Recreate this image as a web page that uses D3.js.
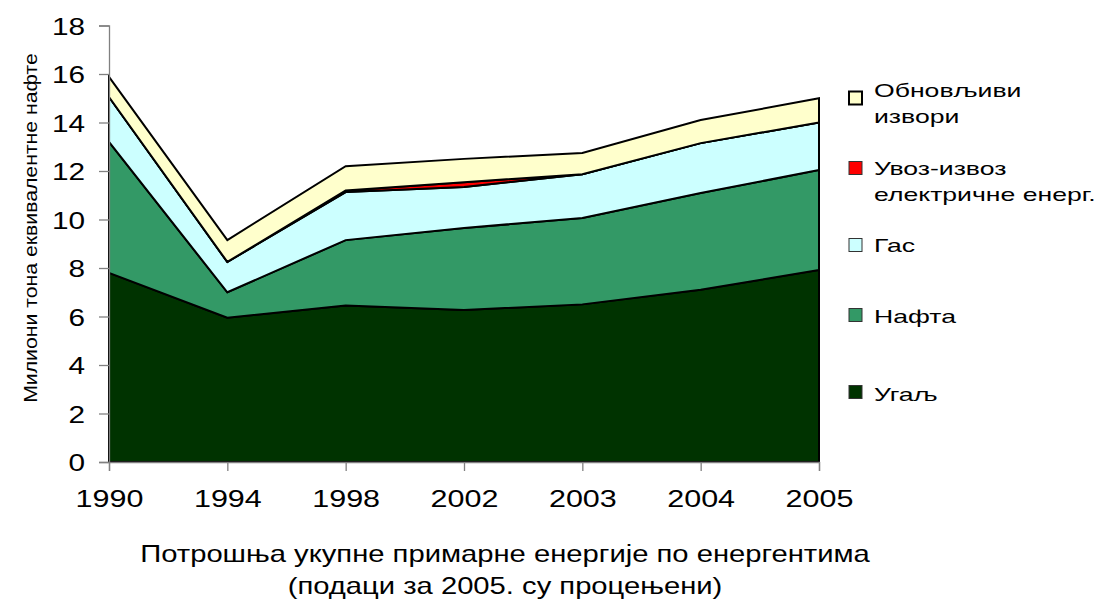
<!DOCTYPE html>
<html>
<head>
<meta charset="utf-8">
<script src="https://cdn.jsdelivr.net/npm/d3@7"></script>
<style>
  body { margin: 0; background: #fff; }
  svg { font-family: Arial, "Liberation Sans", sans-serif; }
</style>
</head>
<body>
<svg id="chart" width="1099" height="605"></svg>
<script>
// years on the x axis (treated as categories)
var years = ["1990", "1994", "1998", "2002", "2003", "2004", "2005"];
// stacked from bottom to top
var coal   = [7.8, 5.95, 6.45, 6.27, 6.5, 7.1, 7.92];
var oil    = [5.4, 1.05, 2.7, 3.38, 3.56, 3.99, 4.12];
var gas    = [1.85, 1.25, 1.98, 1.69, 1.81, 2.06, 1.96];
var elec   = [0, 0, 0.07, 0.2, 0, 0, 0];
var renew  = [0.83, 0.9, 1.0, 0.96, 0.87, 0.95, 1.0];
var seriesNames = ["Угаљ", "Нафта", "Гас", "Увоз-извоз електричне енерг.", "Обновљиви извори"];
var seriesColors = ["#003300", "#339966", "#CCFFFF", "#FF0000", "#FFFFCC"];
var yTicks = [0, 2, 4, 6, 8, 10, 12, 14, 16, 18];

var svg = d3.select("#chart");
var x0 = 109, x1 = 819, yTop = 25.5, yBot = 462;

// the original text is wider than Liberation Sans, so stretch it a bit
function stretch(sel, sx) {
  sel.each(function() {
    var t = d3.select(this);
    var tx = +t.attr("x") || 0, ty = +t.attr("y") || 0;
    t.attr("x", 0).attr("y", 0)
      .attr("transform", "translate(" + tx + "," + ty + ") scale(" + sx + ",1)");
  });
}

var rows = years.map(function(y, i) {
  return { year: y, s0: coal[i], s1: oil[i], s2: gas[i], s3: elec[i], s4: renew[i] };
});
var stack = d3.stack().keys(["s0", "s1", "s2", "s3", "s4"]);
var layers = stack(rows);

var x = d3.scalePoint().domain(years).range([x0, x1]);
var y = d3.scaleLinear().domain([0, 18]).range([yBot, yTop]);

var area = d3.area()
  .x(function(d) { return x(d.data.year); })
  .y0(function(d) { return y(d[0]); })
  .y1(function(d) { return y(d[1]); });

svg.append("g")
  .selectAll("path")
  .data(layers)
  .join("path")
  .attr("d", area)
  .attr("fill", function(d, i) { return seriesColors[i]; })
  .attr("stroke", "#000")
  .attr("stroke-width", 2)
  .attr("stroke-linejoin", "miter");

// axes
var yAxis = svg.append("g")
  .attr("transform", "translate(" + x0 + ",0)")
  .call(d3.axisLeft(y).tickValues(yTicks).tickSize(10).tickPadding(14));
var xAxis = svg.append("g")
  .attr("transform", "translate(0," + yBot + ")")
  .call(d3.axisBottom(x).tickSize(9).tickPadding(19));

[yAxis, xAxis].forEach(function(ax) {
  ax.select(".domain").attr("stroke", "#808080").attr("stroke-width", 1.3);
  ax.selectAll(".tick line").attr("stroke", "#808080").attr("stroke-width", 1.3);
  ax.selectAll(".tick text")
    .attr("fill", "#000")
    .style("font-family", "Arial, 'Liberation Sans', sans-serif")
    .style("font-size", "24px");
});
yAxis.selectAll(".tick text").attr("dy", "0.36em");
xAxis.selectAll(".tick text").attr("dy", "0.71em");
stretch(yAxis.selectAll(".tick text"), 1.24);
stretch(xAxis.selectAll(".tick text"), 1.27);

// y axis title
svg.append("text")
  .attr("transform", "translate(37,228) rotate(-90) scale(1.18,1)")
  .attr("text-anchor", "middle")
  .style("font-size", "18px")
  .text("Милиони тона еквивалентне нафте");

// bottom title
var t1 = svg.append("text")
  .attr("x", 505).attr("y", 562)
  .attr("text-anchor", "middle")
  .style("font-size", "23px")
  .text("Потрошња укупне примарне енергије по енергентима");
var t2 = svg.append("text")
  .attr("x", 505).attr("y", 594)
  .attr("text-anchor", "middle")
  .style("font-size", "23px")
  .text("(подаци за 2005. су процењени)");
stretch(t1, 1.27);
stretch(t2, 1.27);

// legend (top series first): square centre and first baseline
var legendItems = [
  { i: 4, lines: ["Обновљиви", "извори"], cy: 98, by: 97 },
  { i: 3, lines: ["Увоз-извоз", "електричне енерг."], cy: 168, by: 175 },
  { i: 2, lines: ["Гас"], cy: 245, by: 252 },
  { i: 1, lines: ["Нафта"], cy: 315, by: 323 },
  { i: 0, lines: ["Угаљ"], cy: 392, by: 401 }
];
var lg = svg.append("g")
  .selectAll("g")
  .data(legendItems)
  .join("g");
lg.append("rect")
  .attr("x", 849).attr("y", function(d) { return d.cy - 6.5; })
  .attr("width", 13).attr("height", 13)
  .attr("fill", function(d) { return seriesColors[d.i]; })
  .attr("stroke", function(d) { return d.i === 4 ? "#000" : "#333"; })
  .attr("stroke-width", function(d) { return d.i === 4 ? 2 : 1; });
lg.each(function(d) {
  var g = d3.select(this);
  d.lines.forEach(function(t, k) {
    var tx = g.append("text")
      .attr("x", 874)
      .attr("y", d.by + k * 26)
      .style("font-size", "19px")
      .text(t);
    stretch(tx, 1.4);
  });
});
</script>
</body>
</html>
